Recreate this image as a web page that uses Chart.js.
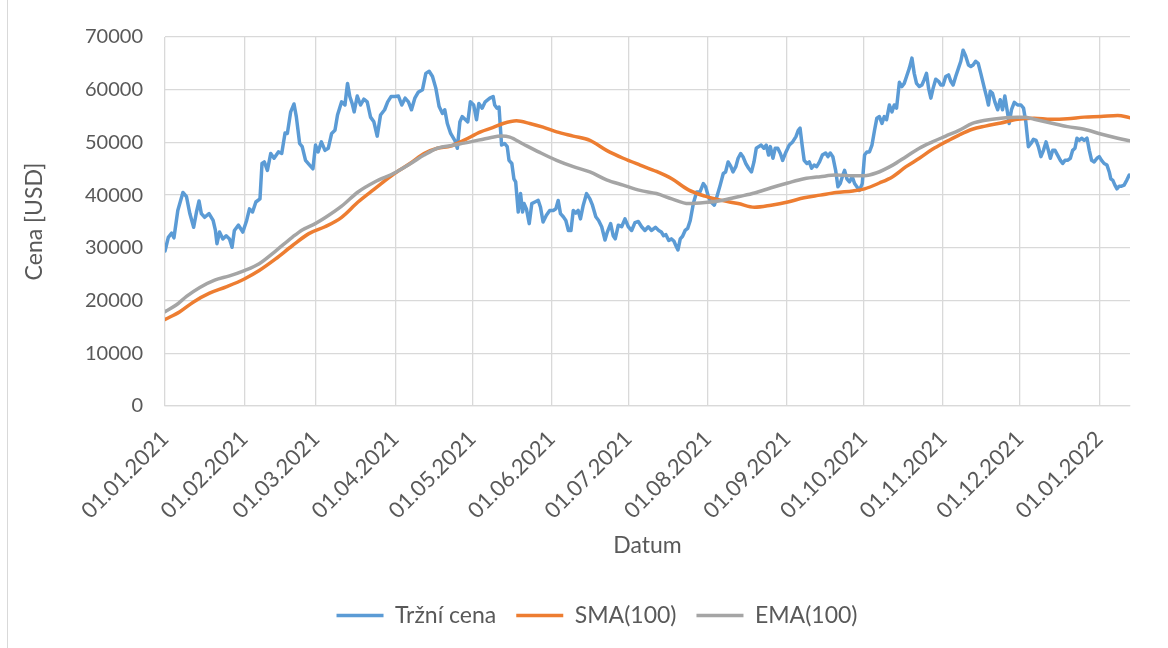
<!DOCTYPE html>
<html>
<head>
<meta charset="utf-8">
<script src="https://cdn.jsdelivr.net/npm/chart.js@4"></script>
<style>
  html, body { margin: 0; padding: 0; background: #fff; }
  #wrap { position: absolute; left: 0; top: 0; width: 1168px; height: 648px; }
  #frame { position: absolute; left: 7px; top: 0; width: 1px; height: 648px; background: #d9d9d9; }
</style>
</head>
<body>
<div id="wrap">
  <div id="frame"></div>
  <canvas id="chart_btc" width="1168" height="648"></canvas>
</div>
<script>
// days counted from 01.01.2021
const tickDays = [0, 31, 59, 90, 120, 151, 181, 212, 243, 273, 304, 334, 365];
const tickLabels = ['01.01.2021', '01.02.2021', '01.03.2021', '01.04.2021', '01.05.2021', '01.06.2021',
  '01.07.2021', '01.08.2021', '01.09.2021', '01.10.2021', '01.11.2021', '01.12.2021', '01.01.2022'];

const priceDays = [0, 1.3, 2.6, 3.5, 5, 7, 8.4, 9.7, 11.2, 12.3, 13.3, 14.2, 15.5, 17.2, 18.8, 19.7, 20.3, 21.3,
  22.6, 23.9, 25.2, 26.2, 27.1, 28.7, 30.4, 31.9, 33, 34.2, 35.5, 37.1, 37.9, 38.8, 40, 41.3, 42.6, 44.3, 45.6,
  46.9, 47.8, 49.1, 50.4, 51.3, 52.6, 53.6, 54.9, 56.5, 57.8, 58.8, 59.8, 61.1, 62.5, 63.8, 65.1, 66.4, 67.4, 69,
  70.3, 71.3, 72.2, 73.1, 73.9, 75.1, 76.4, 77.7, 79, 80.3, 81.6, 82.9, 84.2, 85.8, 87, 88.3, 89.9, 91.2, 92.5,
  93.8, 95.1, 96.3, 97.6, 98.9, 100.6, 101.9, 103.2, 104.5, 105.8, 107.1, 108.4, 109.3, 110.3, 111.6, 113.2,
  114.2, 115.2, 116.1, 117.4, 118.3, 119.3, 120.6, 121.7, 122.6, 123.9, 125.1, 126.9, 128.2, 128.8, 129.7, 130.5,
  131, 131.5, 132.7, 133.7, 134.4, 135.5, 136.3, 137, 138, 138.9, 139.7, 140.3, 141.2, 142.3, 143.3, 144.5, 145.8,
  146.7, 147.7, 149, 150.3, 151.7, 152.7, 153.6, 154.5, 155.6, 156.6, 157.6, 158.6, 159.5, 160.5, 161.4, 162.3,
  163.4, 164.7, 166, 167, 168.3, 169.4, 170.6, 171.9, 172.8, 174.1, 175.1, 175.9, 177.1, 178.4, 179.7, 181, 182.3,
  183.6, 184.9, 186.2, 187.5, 188.8, 190.1, 191.6, 192.9, 193.9, 194.8, 195.7, 196.8, 197.8, 198.8, 199.6, 200.4,
  201.3, 202.2, 203.2, 204.2, 205.2, 206.4, 207.7, 209, 210.3, 211.2, 212.3, 213.3, 214.6, 215.6, 216.9, 218.1,
  219, 220, 221, 221.9, 223, 223.9, 224.9, 225.8, 226.9, 228, 229.1, 230.1, 231, 231.9, 232.9, 234, 234.9, 235.8,
  236.5, 237.5, 238.4, 239.4, 240.4, 241.3, 242.6, 243.9, 245.2, 246.5, 247.4, 248.1, 248.9, 249.7, 250.8, 251.7,
  252.6, 253.6, 254.6, 255.7, 256.8, 258.1, 259, 259.9, 260.9, 262, 262.9, 263.8, 264.6, 265.5, 266.4, 267.4,
  268.5, 269.4, 270.3, 271.3, 272.4, 273.3, 274.2, 275.2, 276.2, 277.2, 278.1, 279.1, 280.1, 281, 281.9, 283, 284,
  284.9, 285.8, 286.9, 287.9, 288.8, 289.7, 290.8, 291.8, 292.7, 293.6, 294.7, 295.7, 296.6, 297.5, 298.3, 299.2,
  300.1, 301.1, 302.2, 303.1, 304, 305, 306.1, 307, 307.9, 308.9, 310, 310.9, 311.8, 312.8, 313.9, 314.8, 315.7,
  316.7, 317.7, 318.7, 320.1, 321.1, 321.7, 322.4, 323.3, 324.2, 325.3, 326.3, 327.2, 328.1, 329.2, 329.8, 330.7,
  331.8, 333.1, 334.4, 335.4, 336.3, 337.3, 338.3, 339.3, 340.3, 341.2, 342.2, 343.2, 344.2, 345.1, 345.9, 346.8,
  347.7, 348.7, 349.8, 350.7, 351.6, 352.6, 353.7, 354.6, 355.5, 356.3, 357.2, 358.1, 359.1, 360.2, 361.1, 362,
  363, 364.1, 365, 365.9, 366.9, 368, 368.9, 369.5, 370.3, 371.1, 371.9, 372.8, 373.7, 374.7, 375.8, 376.7];
const priceValues = [29400, 32000, 32800, 31900, 37100, 40500, 39700, 36500, 33900, 36800, 38900, 36500, 35800,
  36500, 35200, 33300, 30800, 33000, 31700, 32300, 31700, 30100, 33300, 34300, 33000, 35200, 37400, 36800, 38700,
  39300, 46000, 46300, 44700, 47900, 47000, 48200, 47900, 51800, 51700, 55800, 57300, 54900, 49800, 49200, 46600,
  45700, 45000, 49500, 48200, 50100, 48500, 48900, 51700, 52300, 55200, 57700, 57100, 61200, 58700, 57400, 55800,
  58800, 57100, 58200, 57700, 54800, 53900, 51200, 55200, 56200, 57700, 58700, 58700, 58800, 57100, 58400, 57700,
  56200, 58400, 59500, 60000, 63100, 63500, 62500, 60300, 56800, 55500, 56200, 53600, 51700, 50400, 48900, 53900,
  54900, 54300, 53900, 57700, 57100, 54300, 57400, 56500, 57700, 58400, 58700, 57100, 56500, 56700, 53000, 49500,
  49800, 49200, 46600, 46000, 43100, 42500, 36800, 40300, 36800, 38400, 37400, 34600, 38400, 38700, 39000, 37700,
  34900, 36200, 37100, 37100, 37400, 39000, 36500, 35900, 35200, 33300, 33300, 37100, 36600, 37100, 35500, 38100,
  40300, 39300, 38100, 35900, 35200, 34000, 31500, 33000, 34600, 32300, 31700, 34300, 34000, 35500, 34000, 33300,
  34800, 35000, 34000, 33300, 34000, 33300, 33900, 33300, 33000, 32300, 32500, 31400, 31700, 31300, 30400, 29600,
  31700, 32200, 33300, 33700, 35200, 38400, 40600, 40600, 42200, 41600, 39700, 38700, 38100, 39700, 41900, 44100,
  44400, 46300, 45500, 44400, 45400, 47000, 47900, 47300, 46000, 45100, 44400, 46300, 48900, 49200, 49500, 48900,
  49500, 47600, 49200, 47000, 48900, 48900, 47900, 46600, 48200, 49500, 50100, 51100, 52300, 52700, 49500, 46600,
  46000, 46300, 45100, 45700, 45400, 46300, 47600, 48000, 47300, 48000, 47300, 44700, 41600, 42200, 43500, 44700,
  43100, 42500, 43500, 42200, 41600, 40900, 42200, 47600, 48200, 48200, 49500, 52300, 54600, 54900, 53600, 54900,
  54300, 57100, 55800, 57100, 56500, 61400, 60600, 61200, 62500, 64100, 66000, 63100, 61200, 60600, 60900, 61900,
  63100, 60300, 58400, 60300, 62000, 61600, 60900, 60900, 62500, 62800, 61600, 60900, 62500, 64100, 65400, 67500,
  66400, 64700, 64400, 64700, 65400, 65000, 63100, 60300, 58400, 57100, 59700, 59300, 57700, 56200, 58100, 56200,
  58800, 55500, 53600, 56200, 57600, 57100, 57100, 56500, 53900, 49200, 49800, 50600, 50400, 49200, 47300, 48500,
  50100, 48500, 47000, 48500, 48500, 47600, 46600, 46000, 46600, 46600, 47000, 48500, 48900, 50800, 50400, 50800,
  50400, 50800, 48500, 46600, 46300, 47000, 47300, 46600, 46000, 45700, 44400, 43100, 42800, 41900, 41200, 41700,
  41700, 41900, 42900, 43800];

const smaDays = [0, 5.8, 11, 17.4, 23.9, 31, 36.8, 43.2, 49.7, 56.2, 62.5, 69, 75.4, 81.9, 89.6, 96, 101.2, 106.4,
  111.6, 116.7, 123.3, 128, 132.1, 137.3, 142.5, 147.7, 153, 159.5, 166, 172.5, 179, 185.6, 192, 198, 204.5, 211,
  217.4, 223.9, 230.3, 236.8, 243.3, 249.7, 256, 262.2, 268.7, 273.3, 279.1, 284.3, 289.5, 294.7, 299.8, 305,
  310.2, 315.4, 320.5, 326.6, 333.1, 339.6, 346.1, 352.6, 359.1, 365.6, 372.2, 377];
const smaValues = [16400, 17900, 19700, 21400, 22600, 24100, 25700, 27900, 30400, 32700, 34000, 35800, 38700,
  41200, 44100, 46100, 47900, 48900, 49300, 50400, 52000, 52800, 53600, 54100, 53600, 52900, 52000, 51200, 50400,
  48500, 47000, 45700, 44500, 43100, 41000, 39800, 39000, 38400, 37700, 38100, 38700, 39500, 40000, 40500, 40800,
  41200, 42300, 43500, 45400, 47000, 48700, 50100, 51400, 52500, 53100, 53700, 54400, 54600, 54400, 54500, 54800,
  54900, 55100, 54700];

const emaDays = [0, 4.5, 8.4, 13.6, 19.4, 25.2, 31, 36.8, 43.2, 49.7, 53.6, 58.7, 62.5, 69, 75.4, 81.9, 89.6, 96,
  101.2, 106.4, 112.9, 119.3, 127, 131.4, 134.7, 139.9, 146.4, 153, 159.5, 166, 172.5, 179, 185.6, 192, 198, 204.5,
  211, 217.4, 223.9, 230.3, 236.8, 243.3, 249.7, 256, 262.2, 268.7, 273.3, 277.8, 284.3, 289.5, 294.7, 299.8, 305,
  310.2, 315.4, 320.5, 326.6, 333.1, 335.7, 339.6, 346.1, 352.6, 359.1, 365.6, 372.2, 377];
const emaValues = [17900, 19200, 20800, 22500, 23900, 24700, 25700, 27000, 29400, 32000, 33400, 34600, 35700,
  37900, 40600, 42500, 44200, 46000, 47600, 48900, 49500, 50100, 50900, 51200, 51000, 49700, 48100, 46600, 45400,
  44400, 42900, 41900, 40900, 40300, 39300, 38400, 38600, 39000, 39700, 40400, 41400, 42300, 43100, 43500, 43800,
  43700, 43700, 44200, 45700, 47300, 48900, 50100, 51200, 52300, 53600, 54200, 54600, 54800, 54800, 54400, 53700,
  53000, 52500, 51600, 50800, 50300];

const toPoints = (days, values) => days.map((d, i) => ({ x: d, y: values[i] }));

Chart.defaults.font.family = "Lato, 'Noto Sans', sans-serif";
Chart.defaults.font.size = 20;
Chart.defaults.color = '#595959';

const gridColor = '#d9d9d9';
const lineWidth = 3.5;

const series = (label, days, values, color, order, smooth) => ({
  label,
  data: toPoints(days, values),
  borderColor: color,
  backgroundColor: color,
  pointBorderColor: color,
  pointBackgroundColor: color,
  pointBorderWidth: lineWidth,
  borderWidth: lineWidth,
  cubicInterpolationMode: smooth ? 'monotone' : 'default',
  order
});

// the legend sits a bit right of the canvas centre in the original
const legendShift = {
  id: 'legendShift',
  afterLayout(chart) {
    chart.legend.left += 27;
    chart.legend.right += 27;
  }
};

let data = {
  datasets: [
    series('Tržní cena', priceDays, priceValues, '#5b9bd5', 3, false),
    series('SMA(100)', smaDays, smaValues, '#ed7d31', 2, true),
    series('EMA(100)', emaDays, emaValues, '#a5a5a5', 1, true)
  ]
};

let options = {
  responsive: false,
  animation: false,
  events: [],
  layout: { padding: { left: 10, top: 37, right: 38, bottom: 11 } },
  elements: {
    point: { radius: 0, hoverRadius: 0 },
    line: { tension: 0, borderJoinStyle: 'round', borderCapStyle: 'round' }
  },
  scales: {
    x: {
      type: 'linear',
      min: 0,
      max: 377,
      afterBuildTicks: scale => { scale.ticks = tickDays.map(v => ({ value: v })); },
      afterFit: scale => { scale.height = 178; },
      grid: { color: gridColor, lineWidth: 1.3, drawTicks: false },
      border: { color: gridColor, width: 1.3 },
      ticks: {
        autoSkip: false,
        minRotation: 45,
        maxRotation: 45,
        padding: 20,
        font: { size: 22 },
        callback: value => tickLabels[tickDays.indexOf(value)]
      },
      title: { display: true, text: 'Datum', font: { size: 23 }, padding: { top: 0, bottom: 25 } }
    },
    y: {
      min: 0,
      max: 70000,
      afterFit: scale => { scale.width = 155; },
      grid: { color: gridColor, lineWidth: 1.3, drawTicks: false },
      border: { display: false },
      ticks: { stepSize: 10000, padding: 22, callback: value => String(value) },
      title: { display: true, text: 'Cena [USD]', font: { size: 23 }, padding: { top: 11, bottom: 0 } }
    }
  },
  plugins: {
    legend: {
      position: 'bottom',
      labels: {
        usePointStyle: true,
        pointStyle: 'line',
        pointStyleWidth: 47,
        padding: 20,
        font: { size: 23 },
        sort: (a, b) => a.datasetIndex - b.datasetIndex
      }
    },
    tooltip: { enabled: false }
  }
};

new Chart('chart_btc', { type: 'line', data, options, plugins: [legendShift] });
</script>
</body>
</html>
